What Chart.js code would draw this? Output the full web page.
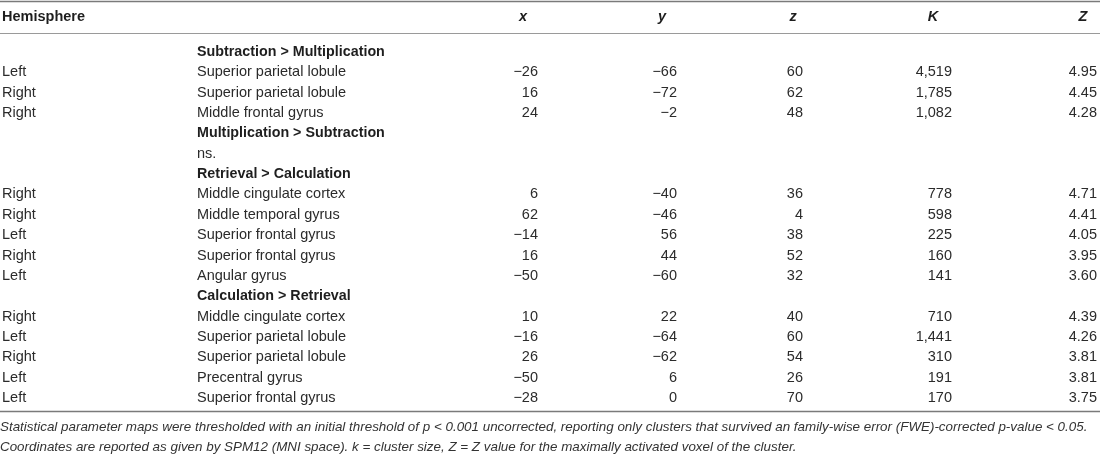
<!DOCTYPE html>
<html lang="en">
<head>
    <meta charset="UTF-8">
    <title>Clusters table</title>
    <script src="https://cdn.jsdelivr.net/npm/chart.js"></script>
    <style>
        body {
            margin: 0;
            padding: 0;
            background: #ffffff;
        }
        .wrap {
            position: relative;
            width: 1100px;
            height: 461px;
        }
    </style>
</head>
<body>
    <div class="wrap">
        <canvas id="tableChart"></canvas>
    </div>

    <script>
        // table content, one entry per row (null = empty cell)
        const rowTypes = ['head', 'data', 'data', 'data', 'head', 'note', 'head',
            'data', 'data', 'data', 'data', 'data', 'head',
            'data', 'data', 'data', 'data', 'data'];
        const hemispheres = [null, 'Left', 'Right', 'Right', null, null, null,
            'Right', 'Right', 'Left', 'Right', 'Left', null,
            'Right', 'Left', 'Right', 'Left', 'Left'];
        const regions = ['Subtraction > Multiplication', 'Superior parietal lobule', 'Superior parietal lobule', 'Middle frontal gyrus',
            'Multiplication > Subtraction', 'ns.', 'Retrieval > Calculation',
            'Middle cingulate cortex', 'Middle temporal gyrus', 'Superior frontal gyrus', 'Superior frontal gyrus', 'Angular gyrus',
            'Calculation > Retrieval',
            'Middle cingulate cortex', 'Superior parietal lobule', 'Superior parietal lobule', 'Precentral gyrus', 'Superior frontal gyrus'];
        const xCoords = [null, -26, 16, 24, null, null, null, 6, 62, -14, 16, -50, null, 10, -16, 26, -50, -28];
        const yCoords = [null, -66, -72, -2, null, null, null, -40, -46, 56, 44, -60, null, 22, -64, -62, 6, 0];
        const zCoords = [null, 60, 62, 48, null, null, null, 36, 4, 38, 52, 32, null, 40, 60, 54, 26, 70];
        const clusterK = [null, 4519, 1785, 1082, null, null, null, 778, 598, 225, 160, 141, null, 710, 1441, 310, 191, 170];
        const peakZ = [null, 4.95, 4.45, 4.28, null, null, null, 4.71, 4.41, 4.05, 3.95, 3.60, null, 4.39, 4.26, 3.81, 3.81, 3.75];

        const headerLabels = ['x', 'y', 'z', 'K', 'Z'];
        const footnotes = [
            'Statistical parameter maps were thresholded with an initial threshold of p < 0.001 uncorrected, reporting only clusters that survived an family-wise error (FWE)-corrected p-value < 0.05.',
            'Coordinates are reported as given by SPM12 (MNI space). k = cluster size, Z = Z value for the maximally activated voxel of the cluster.'
        ];

        // layout: x scale is in pixels, y scale is in row units
        const colLeft = { hemi: 2, region: 197 };
        const colRight = [538, 677, 803, 952, 1097];
        const headerCenter = [523, 662, 793, 933, 1083];
        const headerRow = -1.72;
        const ruleRows = [-2.53, -0.93, 17.64];
        const footRows = [18.43, 19.41];

        const FONT = '"Liberation Sans", Arial, Helvetica, sans-serif';
        const TEXT = '#2b2b2b';

        function fmtSigned(v) {
            return v < 0 ? '\u2212' + Math.abs(v) : String(v);
        }
        function fmtK(v) {
            return v.toLocaleString('en-US');
        }

        function column(values, xPos) {
            const pts = [];
            values.forEach((v, i) => {
                if (v !== null) pts.push({ x: xPos, y: i, v: v });
            });
            return pts;
        }

        const columns = [
            { data: column(hemispheres, colLeft.hemi), align: 'left', fmt: v => v },
            { data: column(regions, colLeft.region), align: 'left', fmt: v => v },
            { data: column(xCoords, colRight[0]), align: 'right', fmt: fmtSigned },
            { data: column(yCoords, colRight[1]), align: 'right', fmt: fmtSigned },
            { data: column(zCoords, colRight[2]), align: 'right', fmt: fmtSigned },
            { data: column(clusterK, colRight[3]), align: 'right', fmt: fmtK },
            { data: column(peakZ, colRight[4]), align: 'right', fmt: v => v.toFixed(2) }
        ];

        const tablePlugin = {
            id: 'tableText',
            beforeDatasetsDraw(chart) {
                const ctx = chart.ctx;
                const xs = chart.scales.x, ys = chart.scales.y;
                ctx.save();
                ruleRows.forEach((r, i) => {
                    const y = Math.round(ys.getPixelForValue(r)) + 0.5;
                    ctx.strokeStyle = i === 1 ? '#9a9a9a' : '#7a7a7a';
                    ctx.lineWidth = i === 1 ? 1 : 1.3;
                    ctx.beginPath();
                    ctx.moveTo(xs.getPixelForValue(0), y);
                    ctx.lineTo(xs.getPixelForValue(1100), y);
                    ctx.stroke();
                });

                ctx.textBaseline = 'middle';
                ctx.fillStyle = '#1e1e1e';
                ctx.font = 'bold 14.5px ' + FONT;
                ctx.textAlign = 'left';
                ctx.fillText('Hemisphere', xs.getPixelForValue(colLeft.hemi), ys.getPixelForValue(headerRow));
                ctx.font = 'italic bold 14.5px ' + FONT;
                ctx.textAlign = 'center';
                headerLabels.forEach((lab, i) => {
                    ctx.fillText(lab, xs.getPixelForValue(headerCenter[i]), ys.getPixelForValue(headerRow));
                });

                ctx.font = 'italic 13.4px ' + FONT;
                ctx.fillStyle = '#333333';
                ctx.textAlign = 'left';
                footnotes.forEach((t, i) => {
                    ctx.fillText(t, xs.getPixelForValue(0), ys.getPixelForValue(footRows[i]));
                });
                ctx.restore();
            },
            afterDatasetsDraw(chart) {
                const ctx = chart.ctx;
                ctx.save();
                ctx.textBaseline = 'middle';
                chart.data.datasets.forEach((ds, di) => {
                    const meta = chart.getDatasetMeta(di);
                    const col = columns[di];
                    ctx.textAlign = col.align;
                    meta.data.forEach((el, i) => {
                        const p = ds.data[i];
                        const bold = di === 1 && rowTypes[p.y] === 'head';
                        ctx.font = (bold ? 'bold 14.3px ' : '14.5px ') + FONT;
                        ctx.fillStyle = bold ? '#1e1e1e' : TEXT;
                        ctx.fillText(col.fmt(p.v), el.x, el.y);
                    });
                });
                ctx.restore();
            }
        };

        new Chart(document.getElementById('tableChart'), {
            type: 'scatter',
            data: {
                datasets: columns.map(c => ({
                    data: c.data,
                    pointRadius: 0,
                    pointHoverRadius: 0,
                    clip: false
                }))
            },
            options: {
                responsive: true,
                maintainAspectRatio: false,
                animation: false,
                events: [],
                layout: { padding: 0 },
                plugins: {
                    legend: { display: false },
                    tooltip: { enabled: false }
                },
                scales: {
                    x: { type: 'linear', display: false, min: 0, max: 1100 },
                    y: { type: 'linear', display: false, reverse: true, min: -2.555, max: 20.095 }
                }
            },
            plugins: [tablePlugin]
        });
    </script>
</body>
</html>
